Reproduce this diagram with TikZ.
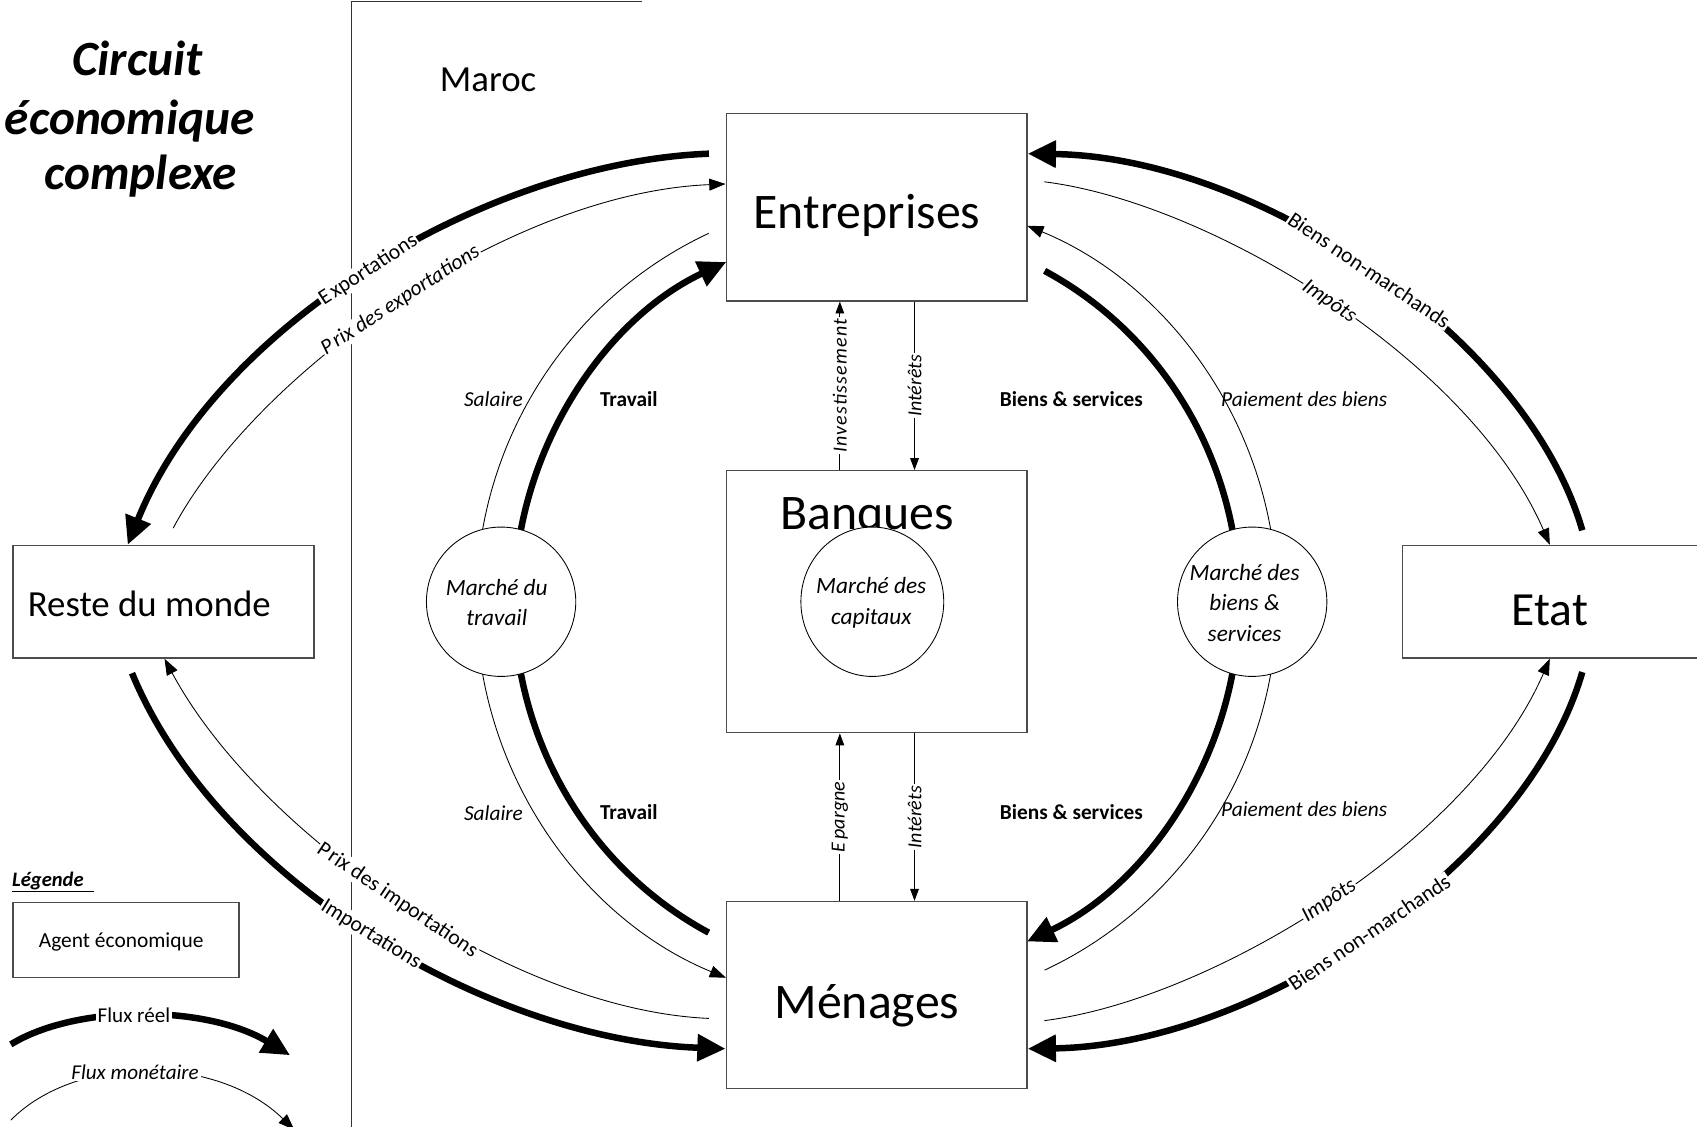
\documentclass[tikz,border=0pt]{standalone}
\usepackage{fontspec}
\setmainfont{Carlito}
\usetikzlibrary{arrows.meta,shapes.geometric}
\begin{document}
\begin{tikzpicture}[x=1pt,y=-1pt,
  agent/.style={draw=black!70, line width=1.3pt, inner sep=0pt},
  market/.style={draw, line width=0.8pt, fill=white, inner sep=0pt},
  markettext/.style={align=center, inner sep=0pt, font=\fontsize{21.5}{28}\selectfont\itshape},
  real/.style={line width=6pt},
  money/.style={line width=0.8pt},
  realtip/.style={-{Triangle[length=26pt,width=24pt]}},
  moneytip/.style={-{Triangle[length=15pt,width=11pt]}},
  smalltip/.style={-{Triangle[length=11pt,width=8pt]}},
  bigname/.style={font=\fontsize{46}{55}\selectfont, anchor=base, inner sep=0pt},
  titleline/.style={font=\fontsize{45.5}{52}\selectfont\bfseries\itshape, anchor=base, inner sep=0pt},
  arclab/.style={sloped, fill=white, inner sep=1pt, font=\fontsize{20}{24}\selectfont},
  arclabit/.style={arclab, font=\fontsize{20}{24}\selectfont\itshape},
  vlab/.style={rotate=90, fill=white, inner sep=1.5pt, font=\fontsize{18.5}{22}\selectfont\itshape},
  flowit/.style={font=\fontsize{19.7}{23}\selectfont\itshape, inner sep=0pt},
  flowbf/.style={font=\fontsize{19.7}{23}\selectfont\bfseries, inner sep=0pt},
]
\useasboundingbox (0,0) rectangle (1568,1040.5);

% border of the national economy
\coordinate (sepEnd) at (593,1.5);
\coordinate (sepTop) at (325,1.5);
\coordinate (sepBot) at (325,1041);
\draw[line width=0.9pt, black!80] (sepEnd) -- (sepTop) -- (sepBot);

% title
\node[titleline] (t1) at (127,70) {Circuit};
\node[titleline] (t2) at (120,124) {économique};
\node[titleline] (t3) at (130,175) {complexe};
\node[font=\fontsize{34}{40}\selectfont, anchor=base, inner sep=0pt] (maroc) at (451,85) {Maroc};

% economic agents
\node[agent, minimum width=278pt, minimum height=173pt] (ent) at (810,191.5) {};
\node[agent, minimum width=278pt, minimum height=242pt] (ban) at (810,556) {};
\node[agent, minimum width=278pt, minimum height=173pt] (men) at (810,919.5) {};
\node[agent, minimum width=278pt, minimum height=104pt] (rdm) at (151,556) {};
\node[agent, minimum width=276pt, minimum height=104pt] (etat) at (1434,556) {};

\node[bigname] (entT) at (801,211) {Entreprises};
\node[bigname] (banT) at (801,489) {Banques};
\node[bigname] (menT) at (801,941) {Ménages};
\node[font=\fontsize{44}{50}\selectfont, anchor=base, inner sep=0pt] (etatT) at (1432,578) {Etat};
\node[font=\fontsize{34}{40}\selectfont, anchor=base, inner sep=0pt] (rdmT) at (138,570) {Reste du monde};

% inner ring of flows around the markets
\coordinate (O) at (810,556);
% thick ring: real flows
\draw[real, realtip] ([shift={(-169.5:335 and 345)}]O)
  arc[start angle=-169.5, end angle=-114.5, x radius=335, y radius=345];
\draw[real] ([shift={(117.6:335 and 345)}]O)
  arc[start angle=117.6, end angle=169.5, x radius=335, y radius=345];
\draw[real] ([shift={(-62.4:335 and 345)}]O)
  arc[start angle=-62.4, end angle=-10.5, x radius=335, y radius=345];
\draw[real, realtip] ([shift={(10.5:335 and 345)}]O)
  arc[start angle=10.5, end angle=65.5, x radius=335, y radius=345];
% thin ring: money flows
\draw[money] ([shift={(-114.8:370 and 375)}]O)
  arc[start angle=-114.8, end angle=-170, x radius=370, y radius=375];
\draw[money, moneytip] ([shift={(170:370 and 375)}]O)
  arc[start angle=170, end angle=112.1, x radius=370, y radius=375];
\draw[money, moneytip] ([shift={(-10:370 and 375)}]O)
  arc[start angle=-10, end angle=-67.9, x radius=370, y radius=375];
\draw[money] ([shift={(65.2:370 and 375)}]O)
  arc[start angle=65.2, end angle=10, x radius=370, y radius=375];

\node[flowit] (salU) at (456,369) {Salaire};
\node[flowbf] (travU) at (581,369) {Travail};
\node[flowbf] (bsU) at (990,369) {Biens \& services};
\node[flowit] (paiU) at (1205,369) {Paiement des biens};
\node[flowit] (salL) at (456,751) {Salaire};
\node[flowbf] (travL) at (581,750) {Travail};
\node[flowbf] (bsL) at (990,750) {Biens \& services};
\node[flowit] (paiL) at (1205,748) {Paiement des biens};

% markets
\node[market, circle, minimum size=138pt] (mtrav) at (463,556) {};
\node[market, ellipse, minimum width=132pt, minimum height=138pt] (mcap) at (806,556) {};
\node[market, circle, minimum size=138pt] (mbs) at (1157,556) {};
\node[markettext] (mtravT) at (459,557) {Marché du\\travail};
\node[markettext] (mcapT) at (805,557) {Marché des\\capitaux};
\node[markettext] (mbsT) at (1150,557) {Marché des\\biens \&\\services};

% flows through the banks
\draw[money, smalltip] (ban.north -| 776,0) -- node[vlab]{\addfontfeature{LetterSpace=6}Investissement} (ent.south -| 776,0);
\draw[money, smalltip] (ent.south -| 845,0) -- node[vlab]{Intérêts} (ban.north -| 845,0);
\draw[money, smalltip] (men.north -| 776,0) -- node[vlab]{E\kern3pt pargne} (ban.south -| 776,0);
\draw[money, smalltip] (ban.south -| 845,0) -- node[vlab]{Intérêts} (men.north -| 845,0);

% exchanges with the rest of the world
\coordinate (expA) at (655,142);
\draw[real, realtip] (expA) .. controls (450,150) and (200,300) ..
  node[arclab]{E\kern2pt xportations} (rdm.north -| 118,0);
\coordinate (pexA) at (160,488);
\draw[money, moneytip] (pexA) .. controls (238,342) and (472,178) ..
  node[arclabit]{P\kern2pt rix des exportations} (ent.west |- 0,170);
\coordinate (impA) at (122,622);
\draw[real, realtip] (impA) .. controls (200,811) and (450,961) ..
  node[arclab]{Importations} (men.west |- 0,969);
\coordinate (pimA) at (655,941);
\draw[money, moneytip] (pimA) .. controls (472,933) and (238,769) ..
  node[arclab]{P\kern2pt rix des importations} (rdm.south -| 152,0);

% exchanges with the state
\coordinate (bnmA) at (1462,490);
\draw[real, realtip] (bnmA) .. controls (1410,310) and (1160,145) ..
  node[arclab]{Biens non-marchands} (ent.east |- 0,142);
\coordinate (ipoA) at (965,168);
\draw[money, moneytip] (ipoA) .. controls (1118,187) and (1358,332) ..
  node[arclabit]{Impôts} (etat.north -| 1432,0);
\coordinate (bnmB) at (1462,621);
\draw[real, realtip] (bnmB) .. controls (1410,801) and (1160,966) ..
  node[arclab]{Biens non-marchands} (men.east |- 0,969);
\coordinate (ipoB) at (965,943);
\draw[money, moneytip] (ipoB) .. controls (1118,924) and (1358,779) ..
  node[arclabit]{Impôts} (etat.south -| 1432,0);

% legend
\node[anchor=west, font=\fontsize{19}{22}\selectfont\bfseries\itshape, inner sep=0pt] (legT) at (11,815) {\underline{Légende\hspace*{10pt}}};
\node[agent, minimum width=209pt, minimum height=69pt] (legagent) at (116.5,868.5) {};
\node[font=\fontsize{19.8}{22}\selectfont, inner sep=0pt] (legagentT) at (112,870) {Agent économique};
\coordinate (frA) at (10,965);
\coordinate (frB) at (268,975);
\draw[real, realtip] (frA) .. controls (70,928) and (190,928) ..
  node[pos=0.47, fill=white, inner sep=2pt, font=\fontsize{19.5}{22}\selectfont]{Flux réel} (frB);
\coordinate (fmA) at (10,1035);
\coordinate (fmB) at (272,1044);
\draw[money, moneytip] (fmA) .. controls (70,974) and (200,974) ..
  node[pos=0.46, fill=white, inner sep=2pt, font=\fontsize{19.5}{22}\selectfont\itshape]{Flux monétaire} (fmB);
\end{tikzpicture}
\end{document}
